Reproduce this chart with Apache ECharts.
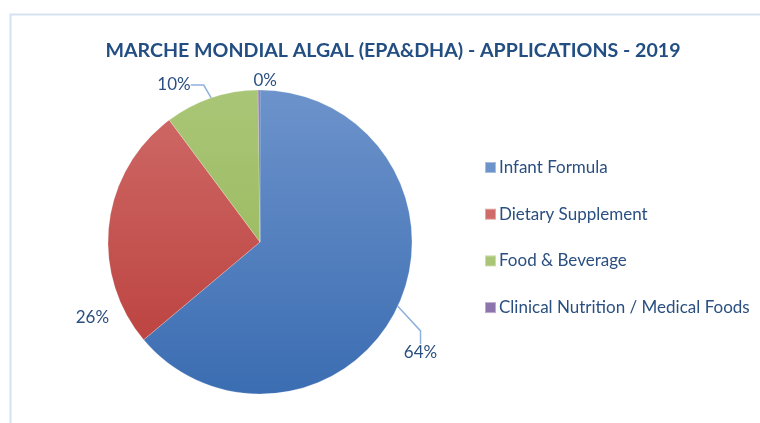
<!DOCTYPE html>
<html>
<head>
<meta charset="utf-8">
<script src="https://cdn.jsdelivr.net/npm/echarts@6/dist/echarts.min.js"></script>
<style>
html, body { margin: 0; padding: 0; background: #fff; }
#chart { width: 760px; height: 423px; }
</style>
</head>
<body>
<div id="chart"></div>
<script>
var categories = ['Infant Formula', 'Dietary Supplement', 'Food & Beverage', 'Clinical Nutrition / Medical Foods'];
var values = [64, 26, 10, 0.2];
var percentLabels = ['64%', '26%', '10%', '0%'];

var textColor = '#2a4f80';
var topColors = ['#6d93cb', '#cf6b68', '#a9c677', '#8e74ad'];
var bottomColors = ['#3b6db2', '#b93c39', '#93b451', '#7659a0'];

var grad = function(i) {
	return new echarts.graphic.LinearGradient(0, 90, 0, 394, [
		{ offset: 0, color: topColors[i] },
		{ offset: 1, color: bottomColors[i] }
	], true);
};

var pieData = categories.map(function(name, i) {
	return {
		name: name,
		value: values[i],
		itemStyle: { color: grad(i) }
	};
});
// per label tweaks (Excel puts them in odd places)
pieData[1].labelLine = { show: false };
pieData[3].labelLine = { show: false };

// label nudges, same order as categories
var labelShift = [[-21, 42], [23, 94], [20, -14], [36, 1]];

var option = {
	animation: false,
	color: bottomColors,
	title: {
		text: 'MARCHE MONDIAL ALGAL (EPA&DHA) - APPLICATIONS - 2019',
		left: 388,
		textAlign: 'center',
		top: 36,
		textStyle: {
			fontFamily: 'Lato',
			fontWeight: 'bold',
			fontSize: 19.6,
			color: '#234e82'
		}
	},
	graphic: [{
		type: 'polyline',
		shape: { points: [[10.5, 423], [10.5, 14.5], [760, 14.5]] },
		style: { stroke: '#d5e2f0', lineWidth: 2, fill: null }
	}],
	legend: {
		orient: 'vertical',
		left: 479,
		top: 154,
		itemWidth: 11,
		itemHeight: 11,
		itemGap: 29.7,
		icon: 'rect',
		data: categories,
		textStyle: {
			fontFamily: 'Lato',
			fontSize: 17,
			color: textColor,
			padding: [0, 0, 0, -2]
		}
	},
	series: [{
		type: 'pie',
		center: [260, 242],
		radius: 152,
		startAngle: 90,
		data: pieData,
		itemStyle: { borderColor: 'rgba(255,255,255,0.4)', borderWidth: 0.5 },
		label: {
			position: 'outside',
			formatter: function(p) { return percentLabels[p.dataIndex]; },
			fontFamily: 'Lato',
			fontSize: 17,
			color: textColor
		},
		labelLine: {
			length: 10,
			length2: 13,
			lineStyle: { color: '#8fb1dd', width: 1.5 }
		},
		labelLayout: function(p) {
			var s = labelShift[p.dataIndex];
			var r = p.labelRect;
			return {
				x: r.x + s[0],
				y: r.y + s[1],
				align: 'left',
				verticalAlign: 'top'
			};
		},
		emphasis: { disabled: true }
	}]
};

var chart = echarts.init(document.getElementById('chart'));
chart.setOption(option);
</script>
</body>
</html>
